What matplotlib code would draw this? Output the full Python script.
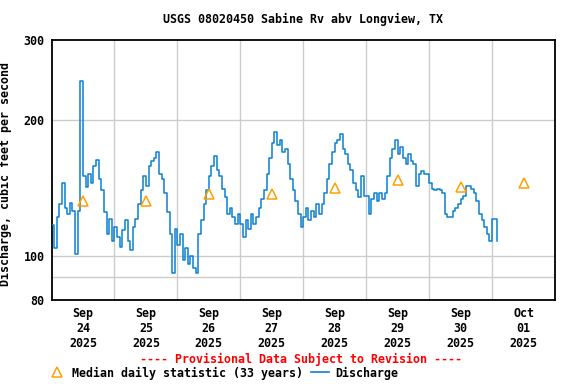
import matplotlib
matplotlib.use("Agg")
import matplotlib.pyplot as plt
from matplotlib.lines import Line2D
from matplotlib.ticker import FixedLocator, NullLocator
import pandas as pd

# hourly discharge, cfs, starting 2025-09-24 00:00
flow_sep24 = [117, 104, 122, 130, 145, 128, 124, 131, 126, 101, 126, 244,
              150, 142, 152, 145, 158, 163, 148, 140, 125, 112, 121, 108]
flow_sep25 = [116, 110, 105, 114, 120, 108, 103, 116, 121, 130, 140, 150,
              143, 158, 162, 165, 170, 152, 148, 138, 125, 112, 92, 115]
flow_sep26 = [106, 112, 98, 104, 96, 100, 94, 92, 112, 120, 130, 140,
              150, 158, 166, 155, 150, 141, 135, 124, 128, 122, 118, 124]
flow_sep27 = [118, 110, 120, 115, 124, 118, 122, 128, 134, 140, 152, 165,
              178, 188, 176, 180, 170, 172, 160, 148, 140, 132, 124, 116]
flow_sep28 = [122, 128, 120, 126, 122, 130, 124, 130, 138, 148, 160, 170,
              178, 180, 186, 172, 168, 160, 155, 145, 140, 135, 150, 136]
flow_sep29 = [136, 124, 134, 138, 132, 138, 134, 138, 150, 165, 172, 180,
              168, 174, 165, 160, 168, 162, 160, 143, 152, 154, 152, 152]
flow_sep30 = [145, 141, 140, 141, 140, 138, 124, 122, 122, 126, 128, 130,
              134, 136, 143, 143, 141, 138, 132, 124, 120, 116, 112, 108]
flow_oct01 = [121, 121, 108]

median_days = ["2025-09-24", "2025-09-25", "2025-09-26", "2025-09-27",
               "2025-09-28", "2025-09-29", "2025-09-30", "2025-10-01"]
median_vals = [132.5, 132.5, 137.4, 137, 141.7, 147.3, 142, 145]

flow = flow_sep24 + flow_sep25 + flow_sep26 + flow_sep27 + flow_sep28 + flow_sep29 + flow_sep30 + flow_oct01
times = pd.date_range("2025-09-24 00:00", periods=len(flow), freq="h")
median_t = pd.to_datetime(median_days) + pd.Timedelta(hours=12)

blue = "#0a80d0"
orange = "#ffa000"
font = dict(family="DejaVu Sans Mono", weight="bold", size=8.4)

fig = plt.figure(figsize=(5.76, 3.84), dpi=100)
ax = fig.add_axes([51.5 / 576, 1 - 300 / 384, (555 - 51.5) / 576, 260 / 384])

ax.plot(times, flow, color=blue, lw=1.1, drawstyle="steps-post", zorder=3)
ax.plot(median_t, median_vals, ls="none", marker="^", ms=7, mfc="none",
        mec=orange, mew=1.1, zorder=4)

ax.set_yscale("log")
ax.set_ylim(80, 300)
ax.yaxis.set_major_locator(FixedLocator([80, 100, 200, 300]))
ax.yaxis.set_minor_locator(NullLocator())
ax.set_yticklabels(["80", "100", "200", "300"], **font)
for v in [90, 100, 200]:
    ax.axhline(v, color="#cccccc", lw=1, zorder=1)

start = pd.Timestamp("2025-09-24")
ax.set_xlim(start, start + pd.Timedelta(days=8))
for d in range(1, 8):
    ax.axvline(start + pd.Timedelta(days=d), color="#cccccc", lw=1, zorder=1)
ax.set_xticks(median_t)
ax.set_xticklabels([t.strftime("%b\n%d\n%Y") for t in median_t], **font)
ax.tick_params(length=0, pad=5)

for s in ax.spines.values():
    s.set_linewidth(1.3)

ax.set_ylabel("Discharge, cubic feet per second", **font)
ax.yaxis.set_label_coords(-0.0785, 0.483)
ax.set_title("USGS 08020450 Sabine Rv abv Longview, TX", pad=12, **font)

fig.text(301 / 576, 1 - 359 / 384, "---- Provisional Data Subject to Revision ----",
         color="red", ha="center", va="center", **font)

handles = [Line2D([], [], ls="none", marker="^", ms=7, mfc="none", mec=orange, mew=1.1),
           Line2D([], [], color=blue, lw=1.2)]
fig.legend(handles, ["Median daily statistic (33 years)", "Discharge"],
           loc="center left", bbox_to_anchor=(48 / 576, 1 - 373 / 384), ncol=2,
           frameon=False, borderpad=0, borderaxespad=0, handlelength=1.55,
           handletextpad=0.5, columnspacing=0.7,
           prop=dict(family="DejaVu Sans Mono", weight="bold", size=8.4))

fig.savefig("out.png", dpi=100)
